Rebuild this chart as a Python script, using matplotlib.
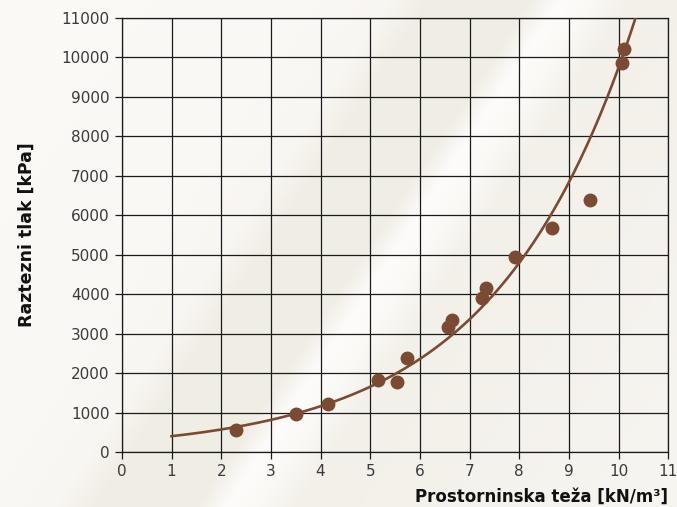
import numpy as np
import matplotlib
matplotlib.use("Agg")
import matplotlib.pyplot as plt

density = [2.30, 3.51, 4.15, 5.16, 5.54, 5.75, 6.57, 6.65, 7.26, 7.34, 7.92, 8.67, 9.42, 10.06, 10.12]
strength = [560, 960, 1220, 1820, 1770, 2380, 3170, 3340, 3900, 4160, 4940, 5670, 6390, 9860, 10220]

x_ticks = list(range(0, 12))
y_ticks = list(range(0, 11001, 1000))

brown = "#7b4a33"

fig = plt.figure(figsize=(6.77, 5.07), dpi=100)
fig.patch.set_facecolor("#f4f0e8")

# ---- background with soft diagonal bands
bg = fig.add_axes([0, 0, 1, 1], zorder=-10)
H, W = 507, 677
yy, xx = np.mgrid[0:H, 0:W]
d = xx + 0.66 * yy
stops_d = [0, 300, 390, 430, 530, 560, 590, 630, 800, 1100]
stops_c = np.array([
    (0.985, 0.978, 0.965),
    (0.982, 0.975, 0.962),
    (0.975, 0.965, 0.948),
    (0.945, 0.930, 0.895),
    (0.945, 0.930, 0.898),
    (0.992, 0.988, 0.980),
    (0.985, 0.978, 0.965),
    (0.955, 0.942, 0.915),
    (0.960, 0.950, 0.928),
    (0.975, 0.968, 0.952),
])
img = np.stack([np.interp(d, stops_d, stops_c[:, k]) for k in range(3)], axis=-1)
bg.imshow(img, aspect="auto", extent=[0, 1, 0, 1], origin="upper")
bg.set_axis_off()

# ---- main chart
ax = fig.add_axes([0.180, 0.1085, 0.807, 0.856])
ax.set_facecolor("none")

# exponential trend line fitted to the points
b, ln_a = np.polyfit(density, np.log(strength), 1)
xs = np.linspace(1, 11, 300)
ax.plot(xs, np.exp(ln_a) * np.exp(b * xs), color=brown, lw=1.9, zorder=3)

ax.plot(density, strength, "o", color=brown, ms=9, zorder=4)

ax.set_xlim(0, 11)
ax.set_ylim(0, 11000)
ax.set_xticks(x_ticks)
ax.set_yticks(y_ticks)
ax.grid(True, color="#1a1a1a", lw=0.9)
ax.set_axisbelow(True)
for s in ax.spines.values():
    s.set_color("#1a1a1a")
    s.set_linewidth(0.9)
ax.tick_params(direction="out", length=5, width=0.9, color="#1a1a1a",
               labelsize=11, labelcolor="#3a3a3a", pad=4)

ax.set_ylabel("Raztezni tlak [kPa]", fontsize=12.5, fontweight="bold", color="#111111", labelpad=18)
ax.set_xlabel("Prostorninska teža [kN/m³]", fontsize=12, fontweight="bold", color="#111111")
ax.xaxis.set_label_coords(1.0, -0.104)
ax.xaxis.label.set_horizontalalignment("right")
ax.xaxis.label.set_verticalalignment("center")

fig.savefig("out.png", dpi=100, facecolor=fig.get_facecolor())
